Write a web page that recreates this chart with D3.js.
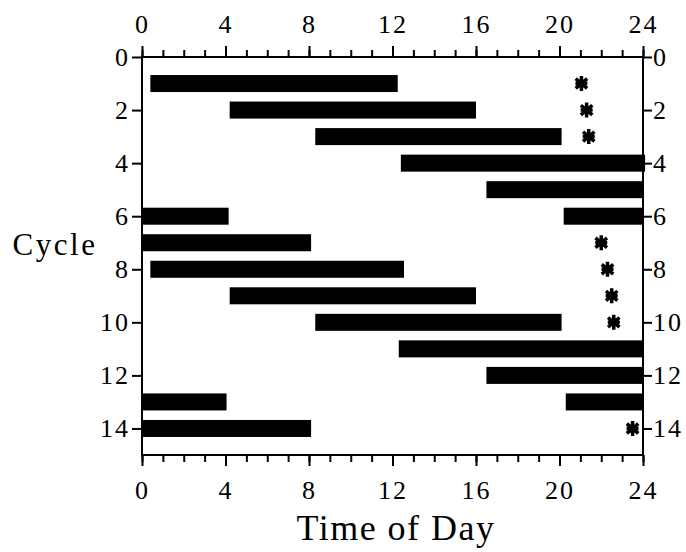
<!DOCTYPE html>
<html>
<head>
<meta charset="utf-8">
<script src="https://cdn.jsdelivr.net/npm/d3@7"></script>
<style>
  body { margin: 0; background: #fff; }
  text { font-family: "Liberation Serif", "Times New Roman", serif; fill: #000; }
</style>
</head>
<body>
<div id="chart"></div>
<script>
// sleep bars per cycle: [cycle, start hour, end hour]
const barCycles = [1, 2, 3, 4, 5, 6, 6, 7, 8, 9, 10, 11, 12, 13, 13, 14];
const barStart  = [0.4, 4.2, 8.3, 12.4, 16.5, 0, 20.2, 0, 0.4, 4.2, 8.3, 12.3, 16.5, 0, 20.3, 0];
const barEnd    = [12.25, 16.0, 20.1, 24.1, 24, 4.15, 24, 8.1, 12.55, 16.0, 20.1, 24, 24, 4.05, 24, 8.1];

// asterisk markers
const starCycles = [1, 2, 3, 7, 8, 9, 10, 14];
const starHours  = [21.05, 21.3, 21.4, 22.0, 22.3, 22.5, 22.6, 23.5];

const xTicks = [0, 4, 8, 12, 16, 20, 24];
const yTicks = [0, 2, 4, 6, 8, 10, 12, 14];

var W = 686, H = 552;
var margin = {left: 142, right: 43, top: 57, bottom: 97};

var svg = d3.select("#chart").append("svg")
    .attr("width", W).attr("height", H);

var x = d3.scaleLinear().domain([0, 24]).range([margin.left, W - margin.right]);
var y = d3.scaleLinear().domain([0, 15]).range([margin.top, H - margin.bottom]);

var barH = 17;

// bars
svg.selectAll("rect.bar")
    .data(barCycles)
    .enter().append("rect")
    .attr("class", "bar")
    .attr("x", (d, i) => x(barStart[i]))
    .attr("width", (d, i) => x(barEnd[i]) - x(barStart[i]))
    .attr("y", d => y(d) - barH / 2)
    .attr("height", barH)
    .attr("fill", "#000");

// asterisks
var star = function (r) {
    var p = "";
    [90, 40, 140].forEach(function (a) {
        var rad = a * Math.PI / 180;
        var dx = r * Math.cos(rad), dy = r * Math.sin(rad);
        p += "M" + (-dx) + "," + (-dy) + "L" + dx + "," + dy;
    });
    p += "M" + (-r * 0.8) + ",0L" + (r * 0.8) + ",0";
    return p;
};
svg.selectAll("path.star")
    .data(starCycles)
    .enter().append("path")
    .attr("class", "star")
    .attr("transform", (d, i) => "translate(" + x(starHours[i]) + "," + y(d) + ")")
    .attr("d", star(7.5))
    .attr("stroke", "#000")
    .attr("stroke-width", 3.5)
    .attr("fill", "none");

// axes
var fontSize = "26px";
var minor = d3.range(0, 25, 1);

var bottomAxis = svg.append("g").attr("transform", "translate(0," + y(15) + ")")
    .call(d3.axisBottom(x).tickValues(minor).tickSize(7).tickFormat(""));
bottomAxis.append("g").call(d3.axisBottom(x).tickValues(xTicks).tickSize(11).tickPadding(15));

var topAxis = svg.append("g").attr("transform", "translate(0," + y(0) + ")")
    .call(d3.axisTop(x).tickValues(minor).tickSize(7).tickFormat(""));
topAxis.append("g").call(d3.axisTop(x).tickValues(xTicks).tickSize(11).tickPadding(13));

svg.append("g").attr("transform", "translate(" + x(0) + ",0)")
    .call(d3.axisLeft(y).tickValues(yTicks).tickSize(10).tickPadding(2));
svg.append("g").attr("transform", "translate(" + x(24) + ",0)")
    .call(d3.axisRight(y).tickValues(yTicks).tickSize(9).tickPadding(1));

svg.selectAll(".tick line").attr("stroke-width", 2);
svg.selectAll(".tick text").style("font-size", fontSize)
    .style("font-family", "'Liberation Serif', serif")
    .style("letter-spacing", "2px")
    .attr("fill", "#000");

// full frame instead of axis domains
svg.selectAll(".domain").remove();
svg.append("rect")
    .attr("x", x(0)).attr("y", y(0))
    .attr("width", x(24) - x(0)).attr("height", y(15) - y(0))
    .attr("fill", "none").attr("stroke", "#000").attr("stroke-width", 2);

svg.append("text")
    .attr("x", 55).attr("y", y(7) + 12)
    .attr("text-anchor", "middle")
    .style("font-size", "31px")
    .style("letter-spacing", "2.5px")
    .text("Cycle");

svg.append("text")
    .attr("x", 396).attr("y", 540)
    .attr("text-anchor", "middle")
    .style("font-size", "36px")
    .style("letter-spacing", "1.5px")
    .text("Time of Day");
</script>
</body>
</html>
